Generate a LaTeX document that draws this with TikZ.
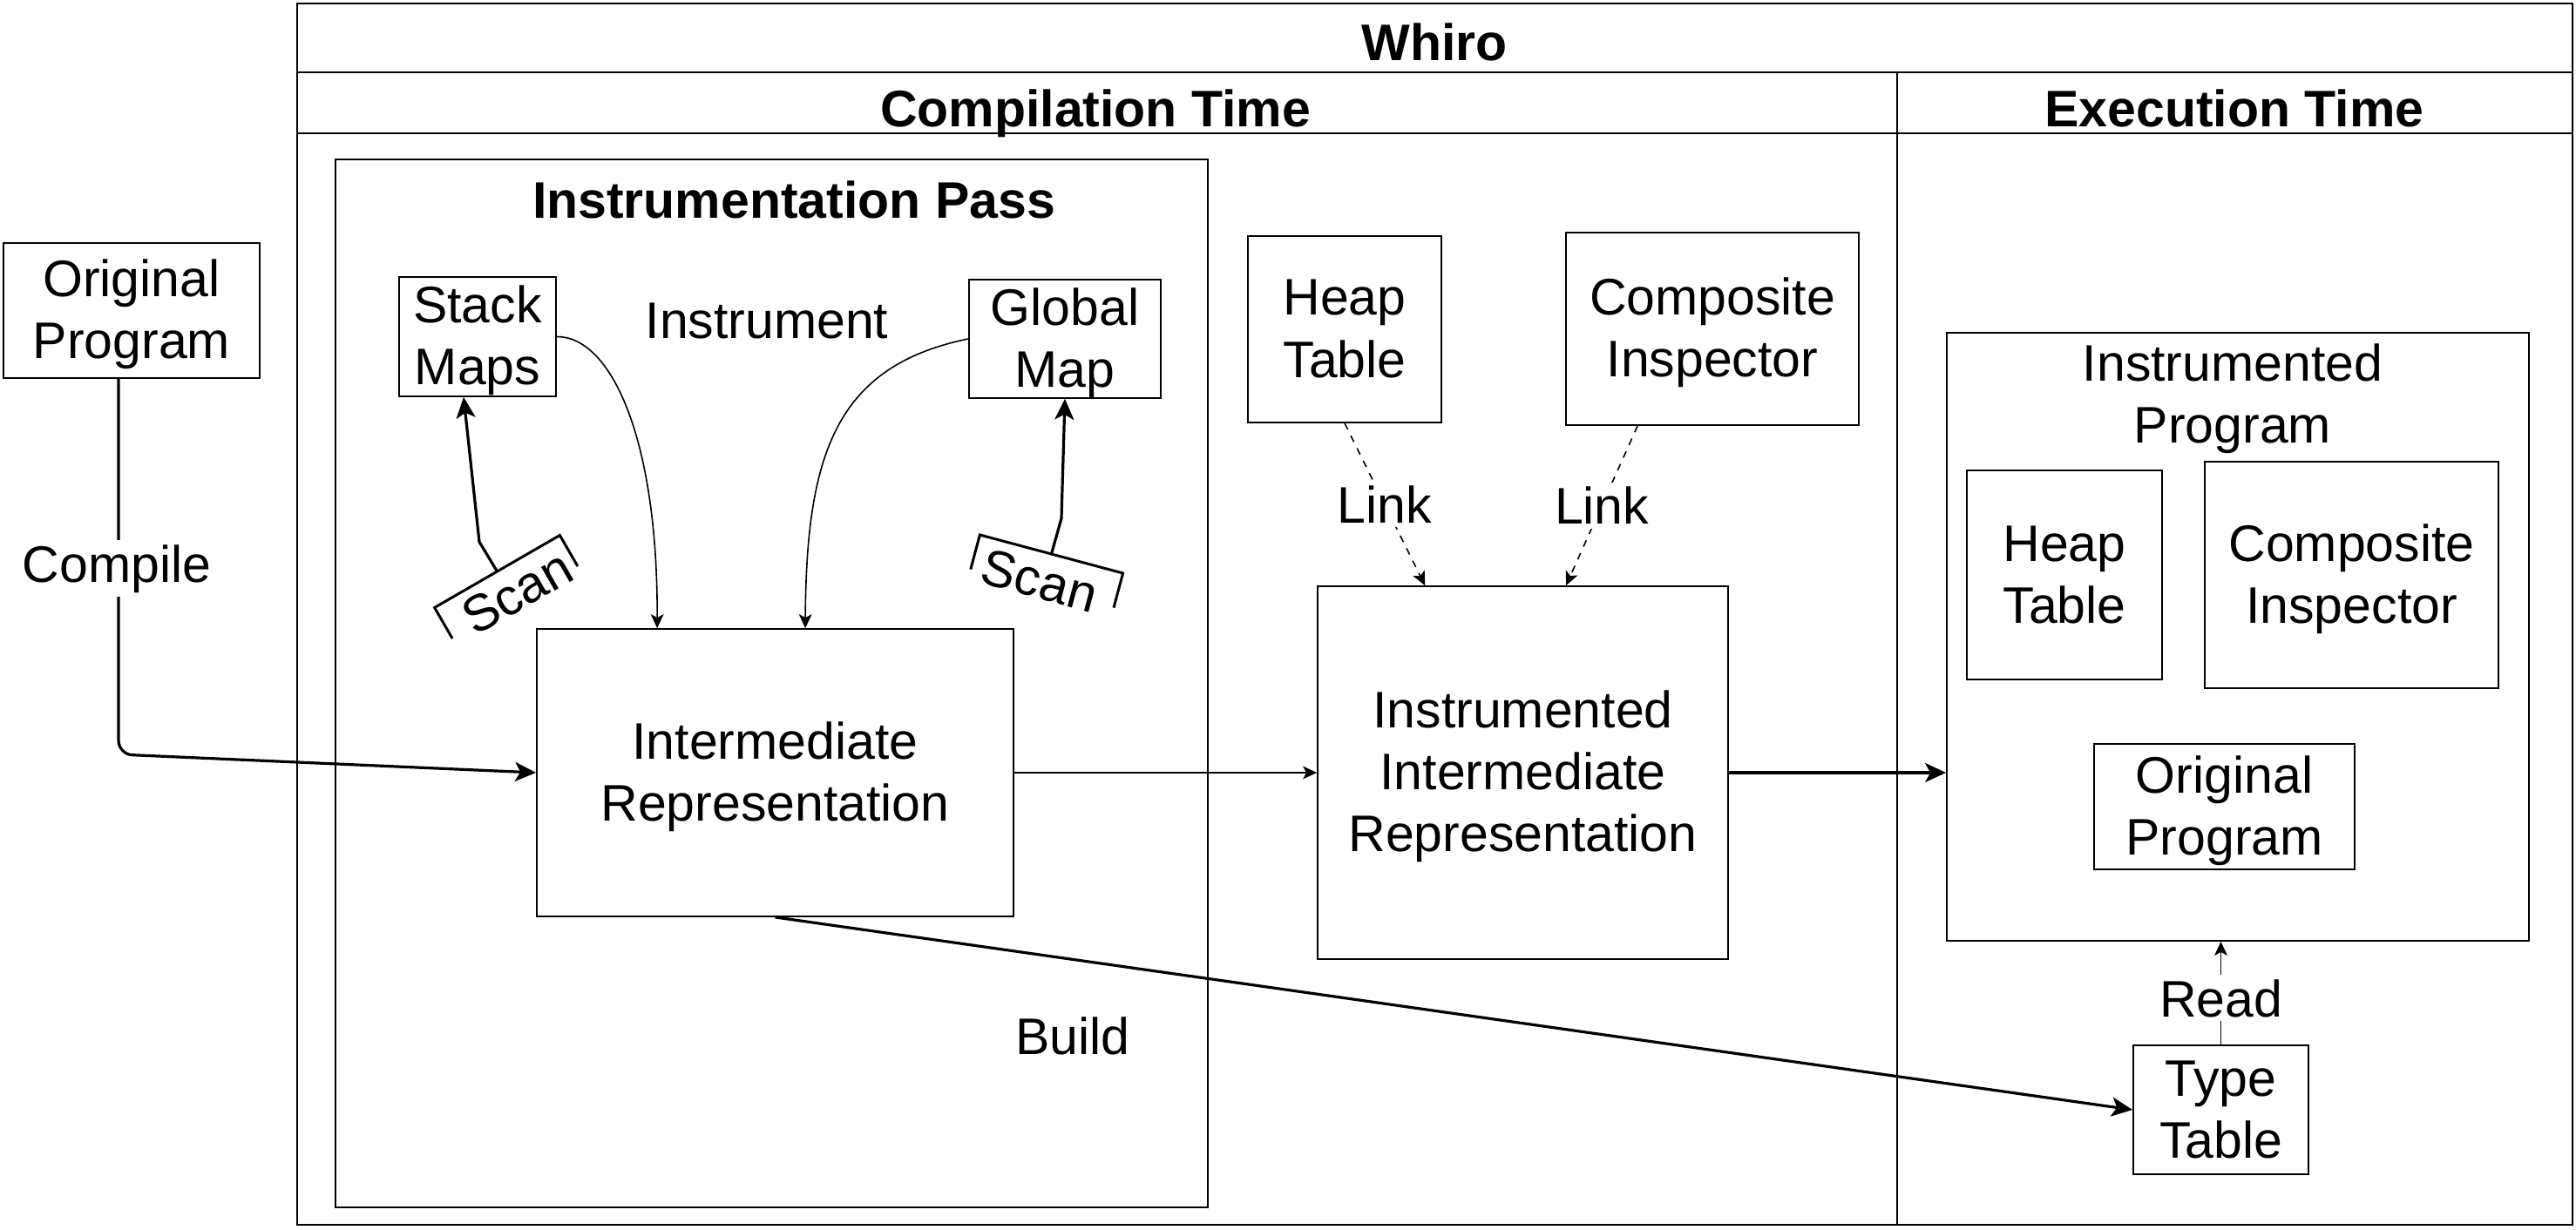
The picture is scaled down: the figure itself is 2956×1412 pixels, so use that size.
\documentclass[tikz,border=0pt]{standalone}
\usepackage{fontspec}
\setmainfont{Liberation Sans}
\usetikzlibrary{arrows.meta,calc}
\newcommand{\bxt}[1]{\rule{0pt}{12.95pt}#1\rule[-3.2pt]{0pt}{3.2pt}}
\begin{document}
\begin{tikzpicture}[x=0.25pt,y=-0.25pt,
  every node/.style={font=\fontsize{14.75}{17.75}\selectfont, inner sep=0pt, align=center},
  box/.style={draw, line width=0.45pt},
  frame/.style={draw, line width=0.65pt},
  lbl/.style={fill=white, inner sep=1.2pt},
  ttl/.style={font=\fontsize{14.75}{17.75}\selectfont\bfseries, anchor=base},
  thickarrow/.style={line width=0.8pt, -{Stealth[length=6pt,width=5.5pt,inset=1.5pt]}},
  thinarrow/.style={line width=0.4pt, -{Stealth[length=4pt,width=3.7pt,inset=1pt]}},
  dasharrow/.style={thinarrow, dash pattern=on 2pt off 2pt},
  bracket/.style={line width=0.75pt},
]
\useasboundingbox (0,0) rectangle (2956,1412);
\fill[white] (0,0) rectangle (2956,1412);

% frames
\draw[frame] (341,4) rectangle (2952,1406);
\draw[frame] (341,83) -- (2952,83);
\draw[frame] (341,153) -- (2952,153);
\draw[frame] (2177,83) -- (2177,1406);
\draw[box] (385,183) rectangle (1386,1386);

% titles
\node[ttl] (whiro) at (1646,70) {Whiro};
\node[ttl] (ctime) at (1257,146) {Compilation Time};
\node[ttl] (etime) at (2564,146) {Execution Time};
\node[ttl] (ipass) at (911,251) {Instrumentation Pass};

% boxes
\node[box, minimum width=73.5pt, minimum height=38.75pt] (orig) at (151,356.5) {\bxt{Original\\Program}};
\node[box, minimum width=45pt, minimum height=34.25pt] (stack) at (548,386.5) {\bxt{Stack\\Maps}};
\node[box, minimum width=55pt, minimum height=33.5pt] (global) at (1222,389) {\bxt{Global\\Map}};
\node[box, minimum width=136.75pt, minimum height=82.5pt] (ir) at (889.5,887) {\bxt{Intermediate\\Representation}};
\node[box, minimum width=55.5pt, minimum height=53.5pt] (heapc) at (1543,378) {\bxt{Heap\\Table}};
\node[box, minimum width=84pt, minimum height=55.25pt] (compc) at (1965,377.5) {\bxt{Composite\\Inspector}};
\node[box, minimum width=117.75pt, minimum height=107pt] (iir) at (1747.5,887) {\bxt{Instrumented\\Intermediate\\Representation}};
\node[box, minimum width=167pt, minimum height=174.5pt] (prog) at (2568,731) {};
\node (progttl) at (2562,458) {Instrumented\\Program};
\node[box, minimum width=56pt, minimum height=60pt] (heapi) at (2369,660) {\bxt{Heap\\Table}};
\node[box, minimum width=84.25pt, minimum height=65pt] (compi) at (2698.5,660) {\bxt{Composite\\Inspector}};
\node[box, minimum width=74.75pt, minimum height=36pt] (origi) at (2552.5,926) {\bxt{Original\\Program}};
\node[box, minimum width=50.25pt, minimum height=37pt] (type) at (2548.5,1274) {\bxt{Type\\Table}};

% free labels
\node[anchor=base] (instr) at (880,388) {Instrument};
\node[anchor=base] (build) at (1231,1210) {Build};

% scan brackets
\begin{scope}[shift={(570.5,656)}, rotate=30]
  \draw[bracket] (-83,41) -- (-83,0) -- (83,0) -- (83,41);
  \coordinate (scanLtop) at (0,0);
  \node[rotate=30] (scanL) at (8,32) {Scan};
\end{scope}
\begin{scope}[shift={(1206.5,636)}, rotate=-15]
  \draw[bracket] (-85,41) -- (-85,0) -- (85,0) -- (85,41);
  \coordinate (scanRtop) at (0,0);
  \node[rotate=-15] (scanR) at (-5,33) {Scan};
\end{scope}

% connectors
\coordinate (cbend) at (136,866);
\draw[thickarrow, rounded corners=4pt] (orig.south -| cbend) -- (cbend) -- (ir.west);
\node[lbl, anchor=base] (compile) at (134,668) {Compile};

\coordinate (elbL) at (550,622);
\coordinate (elbR) at (1218,595);
\draw[thickarrow] (scanLtop) -- (elbL) -- ($(stack.south)+(-16,0)$);
\draw[thickarrow] (scanRtop) -- (elbR) -- (global.south);

\draw[thinarrow] (stack.east) .. controls (700,386) and (755,500) .. ($(ir.north west)+(139,0)$);
\draw[thinarrow] (global.west) .. controls (960,420) and (925,520) .. ($(ir.north west)+(309,0)$);

\draw[thinarrow] (ir.east) -- (iir.west);
\draw[thickarrow] (ir.south) -- (type.west);
\draw[thickarrow] (iir.east) -- (iir.east -| prog.west);

\draw[dasharrow] (heapc.south) -- ($(iir.north west)+(124,0)$) node[lbl, pos=0.5] (link1) {Link};
\draw[dasharrow] ($(compc.south west)+(83,0)$) -- ($(iir.north west)+(286,0)$) node[lbl, pos=0.5] (link2) {Link};

\draw[thinarrow] (type.north) -- (type.north |- prog.south) node[lbl, pos=0.45] (read) {Read};
\end{tikzpicture}
\end{document}
